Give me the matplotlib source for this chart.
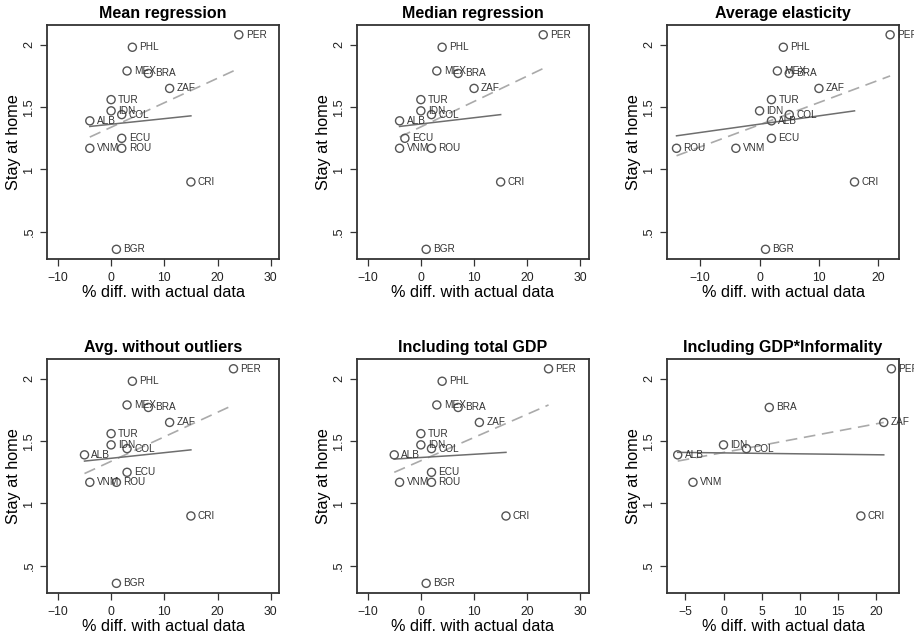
import numpy as np
import matplotlib
matplotlib.use("Agg")
import matplotlib.pyplot as plt

plt.rcParams['font.family'] = ['Liberation Sans', 'DejaVu Sans']

# data
countries = ["PER", "PHL", "MEX", "BRA", "ZAF", "TUR", "IDN", "COL", "ALB", "ECU", "VNM", "ROU", "CRI", "BGR"]
stay = [2.08, 1.98, 1.79, 1.77, 1.65, 1.56, 1.47, 1.44, 1.39, 1.25, 1.17, 1.17, 0.90, 0.36]

x_mean = [24, 4, 3, 7, 11, 0, 0, 2, -4, 2, -4, 2, 15, 1]
x_median = [23, 4, 3, 7, 10, 0, 0, 2, -4, -3, -4, 2, 15, 1]
x_elast = [22, 4, 3, 5, 10, 2, 0, 5, 2, 2, -4, -14, 16, 1]
x_noout = [23, 4, 3, 7, 11, 0, 0, 3, -5, 3, -4, 1, 15, 1]
x_gdp = [24, 4, 3, 7, 11, 0, 0, 2, -5, 2, -4, 2, 16, 1]
x_inform = [22, np.nan, np.nan, 6, 21, np.nan, 0, 3, -6, np.nan, -4, np.nan, 18, np.nan]

titles = ["Mean regression", "Median regression", "Average elasticity",
          "Avg. without outliers", "Including total GDP", "Including GDP*Informality"]

# fitted lines (end points)
solid_x = [(-4, 15), (-4, 15), (-14, 16), (-5, 15), (-5, 16), (-6, 21)]
solid_y = [(1.345, 1.43), (1.345, 1.44), (1.27, 1.47), (1.34, 1.43), (1.356, 1.41), (1.41, 1.39)]
dash_x = [(-4, 24), (-4, 23), (-14, 22), (-5, 23), (-5, 24), (-6, 21)]
dash_y = [(1.26, 1.81), (1.26, 1.81), (1.11, 1.75), (1.24, 1.79), (1.25, 1.79), (1.34, 1.65)]

xs = [x_mean, x_median, x_elast, x_noout, x_gdp, x_inform]
xlims = [(-12, 31.6), (-12, 31.6), (-15.6, 23.5), (-12, 31.6), (-12, 31.6), (-7.4, 23.0)]
xticks = [[-10, 0, 10, 20, 30]] * 2 + [[-10, 0, 10, 20]] + [[-10, 0, 10, 20, 30]] * 2 + [[-5, 0, 5, 10, 15, 20]]

fig = plt.figure(figsize=(9.14, 6.39), dpi=100)
lefts = [0.0517, 0.3906, 0.7298]
bottoms = [0.5942, 0.0715]
w = 0.2538
h = 0.367

for i in range(6):
    ax = fig.add_axes([lefts[i % 3], bottoms[i // 3], w, h])
    x = np.array(xs[i], dtype=float)
    ok = ~np.isnan(x)
    ax.plot(dash_x[i], dash_y[i], color="#aaaaaa", lw=1.2, dashes=(7, 4), zorder=2)
    ax.plot(solid_x[i], solid_y[i], color="#6e6e6e", lw=1.1, zorder=2)
    ax.scatter(x[ok], np.array(stay)[ok], s=34, facecolors="none", edgecolors="#555555",
               linewidths=1.0, zorder=3)
    for j in range(len(countries)):
        if ok[j]:
            ax.annotate(countries[j], (x[j], stay[j]), xytext=(5, 0), textcoords="offset points",
                        va="center", ha="left", fontsize=7.2, color="#333333",
                        annotation_clip=False, zorder=4)
    ax.set_xlim(xlims[i])
    ax.set_ylim(0.28, 2.16)
    ax.set_xticks(xticks[i])
    ax.set_yticks([0.5, 1, 1.5, 2])
    ax.set_yticklabels([".5", "1", "1.5", "2"], rotation=90, va="center")
    ax.tick_params(direction="out", length=5, width=0.9, colors="#333333",
                   labelcolor="#222222", pad=4)
    ax.tick_params(axis="x", labelsize=8.7)
    ax.tick_params(axis="y", labelsize=9.2, pad=3.5)
    for s in ax.spines.values():
        s.set_color("#333333")
        s.set_linewidth(1.3)
    ax.set_title(titles[i], fontsize=11.5, fontweight="bold", pad=5)
    ax.set_xlabel("% diff. with actual data", fontsize=11.7, labelpad=0.5)
    ax.set_ylabel("Stay at home", fontsize=11.7, labelpad=1.5)

fig.savefig("out.png", dpi=100)
